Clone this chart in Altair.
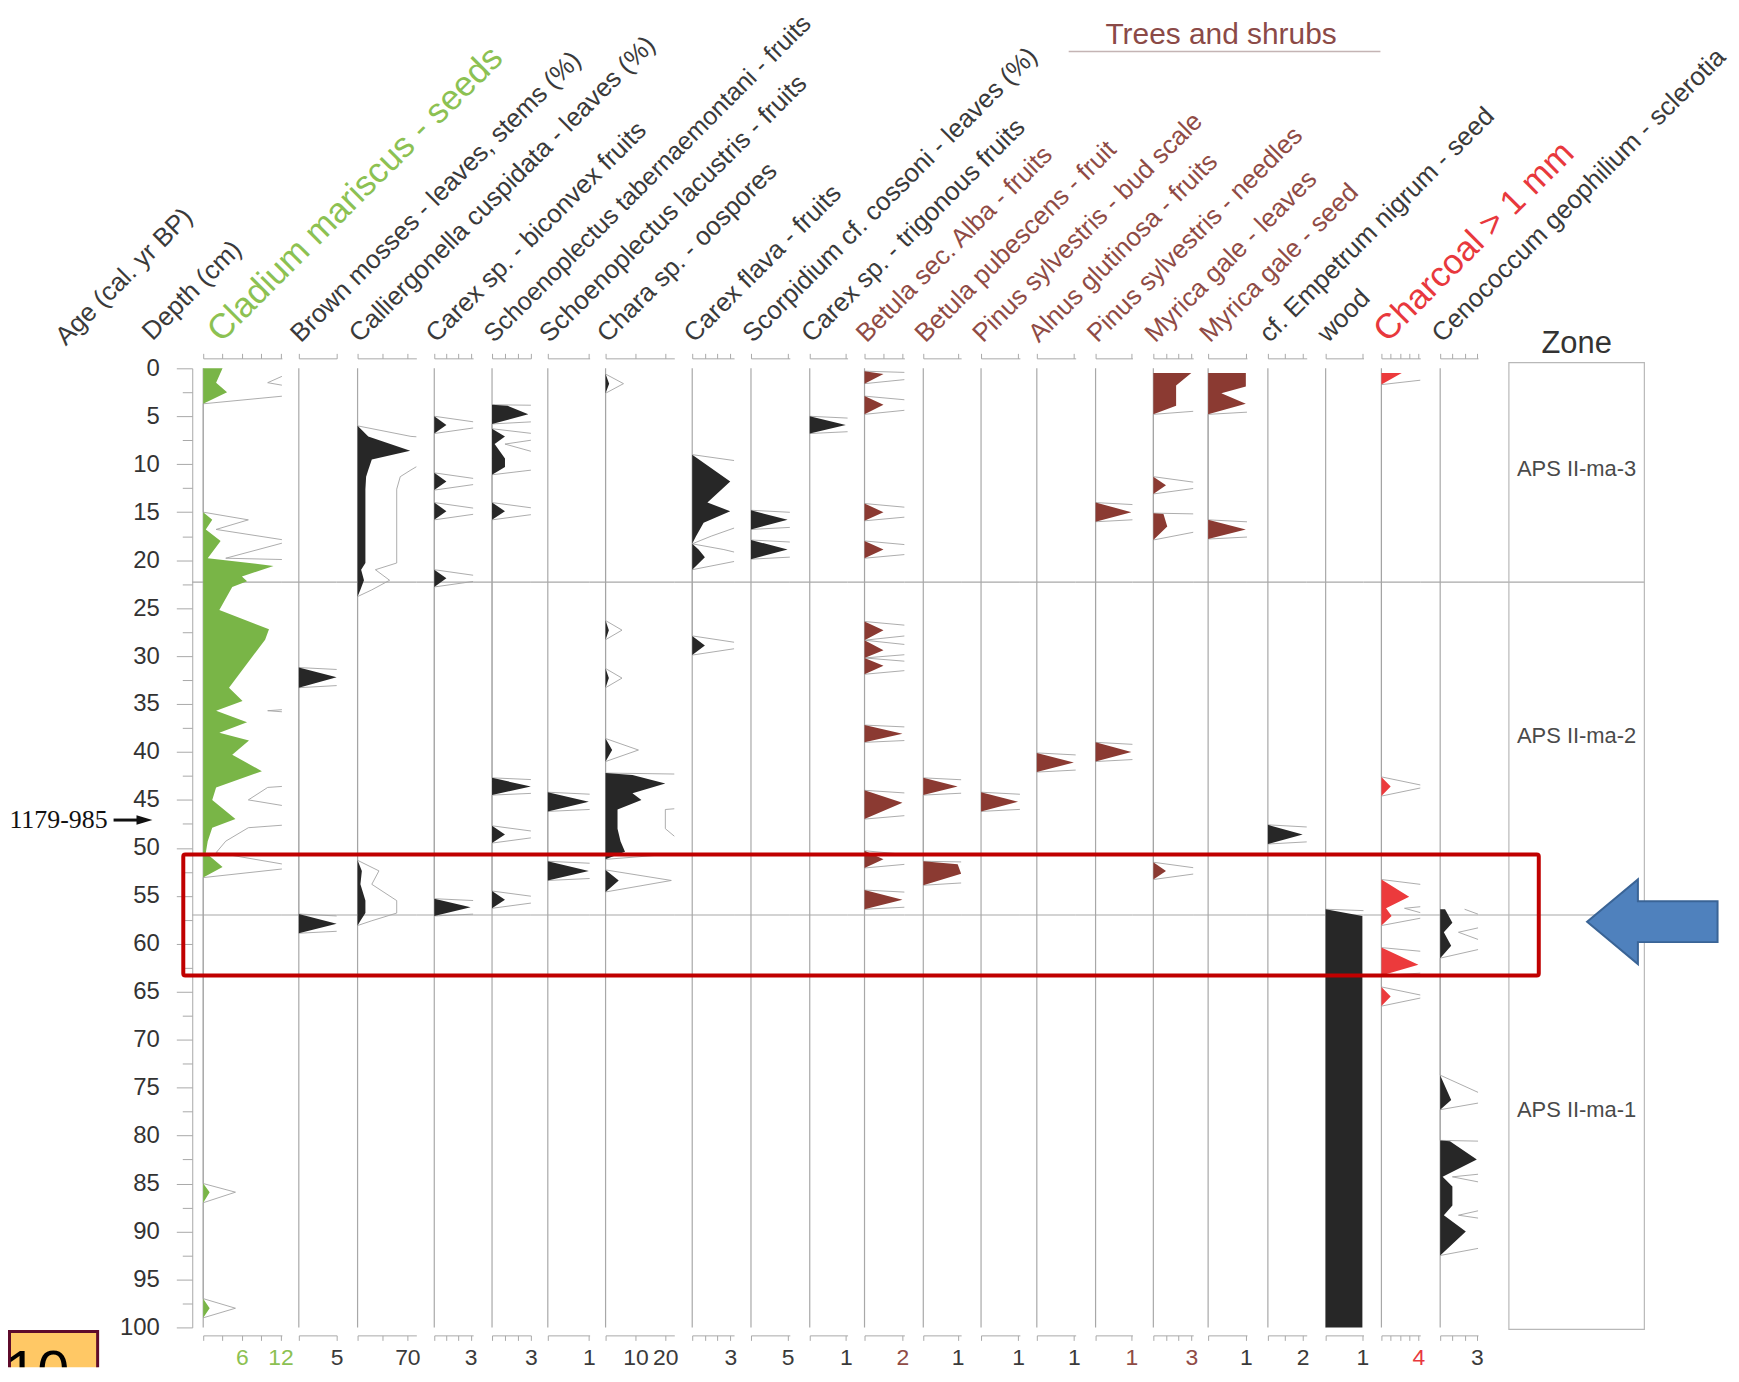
import json
import altair as alt
import pandas as pd

FONT = "Liberation Sans"
SERIF = "Liberation Serif"

# ---------------- depth axis / zones / annotations ----------------
depth_ticks = [i * 2.5 for i in range(41)]
zone_bounds = [22.3, 57.0]
zone_names = ["APS II-ma-3", "APS II-ma-2", "APS II-ma-1"]
zone_label_depths = [10.5, 38.3, 77.3]
dated_depth = 47.1
dated_label = "1179-985"
highlight_depths = [50.7, 63.3]
arrow_depth = 57.7

# ---------------- taxa: (depth cm, value) ----------------
cladium = [(0, 3), (1.5, 2), (2.5, 3.7), (3.7, 0), (15, 0), (15.8, 1.4), (16.8, 0.4), (18, 2.7),
           (19.8, 0.7), (20.6, 10.9), (21.7, 6), (22.2, 6.8), (22.8, 4.5), (25.2, 2.5), (27.2, 10.2),
           (28.3, 9.6), (33.3, 4), (34.7, 6.1), (35.7, 2), (36.9, 6.8), (38, 2.5), (38.8, 7.1),
           (40.3, 4.5), (42, 9.1), (43.7, 2), (45, 1.4), (47, 5), (47.9, 1.4), (49.3, 0.7),
           (50.5, 0.4), (52, 3), (53.1, 0), (85, 0), (85.9, 1.0), (87, 0), (97.0, 0), (98.0, 1.0), (99.0, 0)]
brown_mosses = [(31.2, 0), (32.2, 5), (33.3, 0), (56.9, 0), (57.9, 5), (58.9, 0)]
calliergonella = [(6.0, 0), (7.1, 15), (8.6, 74), (9.5, 20), (10.6, 15), (11.3, 12), (12.6, 11),
                  (20.3, 11), (21.0, 5), (22.1, 9), (23.1, 4), (23.8, 0), (51.3, 0), (52.4, 6),
                  (53.8, 4), (55.5, 11), (56.8, 11), (57.6, 4), (58.1, 0)]
carex_biconvex = [(5.0, 0), (5.9, 1), (6.8, 0), (10.9, 0), (11.8, 1), (12.7, 0), (14.0, 0), (14.9, 1),
                  (15.8, 0), (21.0, 0), (21.9, 1), (22.8, 0), (55.3, 0), (56.2, 3), (57.1, 0)]
schoeno_tab = [(3.8, 0), (3.9, 1.2), (4.8, 2.8), (5.8, 0), (6.3, 0), (7.1, 1), (7.9, 0.2), (9.4, 1),
               (10.3, 1), (11.1, 0), (14.0, 0), (14.9, 1), (15.8, 0), (42.7, 0), (43.6, 3), (44.5, 0),
               (47.7, 0), (48.6, 1), (49.5, 0), (54.5, 0), (55.4, 1), (56.3, 0)]
schoeno_lac = [(44.2, 0), (45.2, 1), (46.2, 0), (51.4, 0), (52.4, 1), (53.4, 0)]
chara = [(0.6, 0), (1.6, 1.2), (2.6, 0), (26.3, 0), (27.3, 1.1), (28.3, 0), (31.3, 0), (32.3, 1.1),
         (33.3, 0), (38.6, 0), (39.8, 2.2), (41.0, 0), (42.2, 0), (42.4, 9), (43.3, 20), (44.3, 9),
         (45.0, 12), (46.0, 4), (48.0, 4), (49.3, 5), (50.4, 6.5), (51.2, 0), (52.3, 0), (53.4, 4.4), (54.6, 0)]
carex_flava = [(9.0, 0), (11.8, 3), (14.0, 1.2), (14.9, 3), (16.1, 0.9), (17.5, 0.3), (18.3, 0),
               (18.9, 0.5), (19.7, 1), (21.0, 0), (27.9, 0), (28.9, 1), (29.9, 0)]
scorpidium = [(14.8, 0), (15.8, 5), (16.8, 0), (17.9, 0), (18.9, 5), (19.9, 0)]
carex_trigonous = [(5.0, 0), (5.9, 1), (6.8, 0)]
betula_alba = [(0.3, 0), (0.6, 1), (1.6, 0), (2.9, 0), (3.8, 1), (4.8, 0), (14.1, 0), (15.0, 1), (15.9, 0),
               (18.0, 0), (18.9, 1), (19.8, 0), (26.4, 0), (27.3, 1), (28.35, 0), (29.4, 1), (30.2, 0),
               (31.0, 1), (31.9, 0), (37.2, 0), (38.1, 2), (39.0, 0), (44.0, 0), (45.3, 2), (47.0, 0),
               (50.3, 0), (51.2, 1), (52.1, 0), (54.4, 0), (55.4, 2), (56.4, 0)]
betula_pub = [(42.7, 0), (43.6, 1), (44.5, 0), (51.4, 0), (51.7, 1), (52.7, 1.1), (53.9, 0)]
pinus_bud = [(44.2, 0), (45.2, 1), (46.2, 0)]
alnus = [(40.1, 0), (41.1, 1), (42.1, 0)]
pinus_needles = [(14.0, 0), (15.0, 1), (16.0, 0), (39.0, 0), (40.0, 1), (41.0, 0)]
myrica_leaves = [(0.5, 3), (1.8, 1.8), (3.9, 1.8), (4.8, 0), (11.3, 0), (12.2, 1), (13.1, 0), (15.1, 0),
                 (15.2, 0.8), (16.5, 1.1), (17.9, 0), (51.5, 0), (52.4, 1), (53.3, 0)]
myrica_seed = [(0.5, 1), (1.9, 1), (2.6, 0.35), (3.7, 1), (4.8, 0), (15.8, 0), (16.8, 1), (17.8, 0)]
empetrum = [(47.6, 0), (48.6, 2), (49.6, 0)]
wood = [(56.4, 0), (57.1, 1), (100, 1)]
charcoal = [(0.5, 2.2), (1.7, 0), (42.6, 0), (43.6, 1), (44.6, 0), (53.3, 0), (55.1, 3), (56.3, 0.5),
            (57.1, 1.1), (58.1, 0), (60.4, 0), (62.2, 4), (63.3, 0), (64.5, 0), (65.5, 1), (66.5, 0)]
cenococcum = [(56.4, 0.4), (57.8, 1), (58.8, 0.3), (60.2, 0.9), (61.5, 0), (73.7, 0), (76.3, 0.9),
              (77.3, 0), (80.5, 0), (80.6, 0.8), (82.5, 3), (84.3, 0.2), (85.3, 1), (87.3, 1),
              (88.3, 0.3), (90.0, 2.1), (92.5, 0)]

# ---------------- styles ----------------
GREEN_FILL, GREEN_TXT = "#79B547", "#8CC152"
BLACK = "#272727"
BROWN_FILL, BROWN_TXT = "#8B3A32", "#8F4B45"
RED_FILL, RED_TXT = "#EC3A3C", "#E8383D"
DARK = "#3A3A3A"
AX = "#A8A8A8"
EXAG = 5

# label, series, axis max, tick values, labelled ticks, fill, header colour, header size, tick colour
panels = [
    ("Cladium mariscus - seeds", cladium, 12.2, [0, 3, 6, 9, 12], [6, 12], GREEN_FILL, GREEN_TXT, 35, GREEN_TXT),
    ("Brown mosses - leaves, stems (%)", brown_mosses, 5.0, [0, 5], [5], BLACK, DARK, 26, DARK),
    ("Calliergonella cuspidata - leaves (%)", calliergonella, 82.6, [0, 35, 70], [70], BLACK, DARK, 26, DARK),
    ("Carex sp. - biconvex fruits", carex_biconvex, 3.2, [0, 1, 2, 3], [3], BLACK, DARK, 26, DARK),
    ("Schoenoplectus tabernaemontani - fruits", schoeno_tab, 3.0, [0, 1, 2, 3], [3], BLACK, DARK, 25.2, DARK),
    ("Schoenoplectus lacustris - fruits", schoeno_lac, 1.02, [0, 1], [1], BLACK, DARK, 26, DARK),
    ("Chara sp. - oospores", chara, 23, [0, 10, 20], [10, 20], BLACK, DARK, 26, DARK),
    ("Carex flava - fruits", carex_flava, 3.3, [0, 1, 2, 3], [3], BLACK, DARK, 26, DARK),
    ("Scorpidium cf. cossoni - leaves (%)", scorpidium, 5.3, [0, 5], [5], BLACK, DARK, 26, DARK),
    ("Carex sp. - trigonous fruits", carex_trigonous, 1.05, [0, 1], [1], BLACK, DARK, 26, DARK),
    ("Betula sec. Alba - fruits", betula_alba, 2.1, [0, 1, 2], [2], BROWN_FILL, BROWN_TXT, 26, BROWN_TXT),
    ("Betula pubescens - fruit", betula_pub, 1.1, [0, 1], [1], BROWN_FILL, BROWN_TXT, 26, DARK),
    ("Pinus sylvestris - bud scale", pinus_bud, 1.05, [0, 1], [1], BROWN_FILL, BROWN_TXT, 26, DARK),
    ("Alnus glutinosa - fruits", alnus, 1.05, [0, 1], [1], BROWN_FILL, BROWN_TXT, 26, DARK),
    ("Pinus sylvestris - needles", pinus_needles, 1.03, [0, 1], [1], BROWN_FILL, BROWN_TXT, 26, BROWN_TXT),
    ("Myrica gale - leaves", myrica_leaves, 3.15, [0, 1, 2, 3], [3], BROWN_FILL, BROWN_TXT, 26, BROWN_TXT),
    ("Myrica gale - seed", myrica_seed, 1.03, [0, 1], [1], BROWN_FILL, BROWN_TXT, 26, DARK),
    ("cf. Empetrum nigrum - seed", empetrum, 2.23, [0, 1, 2], [2], BLACK, DARK, 26, DARK),
    ("wood", wood, 1.03, [0, 1], [1], BLACK, DARK, 26, DARK),
    ("Charcoal > 1 mm", charcoal, 4.2, [0, 1, 2, 3, 4], [4], RED_FILL, RED_TXT, 35, RED_TXT),
    ("Cenococcum geophilium - sclerotia", cenococcum, 3.1, [0, 1, 2, 3], [3], BLACK, DARK, 26, DARK),
]

# ---------------- layout (pixels) ----------------
AXIS_X = 193          # page x of depth axis
baselines = [204, 300, 359, 436, 494, 550, 608, 695, 754, 813, 868, 927, 985, 1041, 1100, 1158,
             1213, 1273, 1331, 1387, 1446]
axis_len = [79, 38, 59, 39, 39, 42, 69, 42, 39, 38, 40, 38, 39, 39, 37, 40, 39, 39, 38, 39, 38]
head_dx = [18, 2, 2, 2, 2, 2, 2, 2, 2, 2, 2, 2, 2, 2, 2, 2, 2, 2, 2, 6, 2]
ZONE_LEFT, ZONE_W = 1515, 136
H = 963
LEFT_W = AXIS_X - 8
HEAD_Y = -25
BADGE_TOP, BADGE_H = H + 4, 36

ys = alt.Scale(domain=[0, 100], reverse=True, nice=False, zero=False)
zone_df = pd.DataFrame({"d": zone_bounds})
one = pd.DataFrame({"z": [0]})


def make_panel(i):
    label, series, dmax, ticks, shown, fill, hcol, hsize, tcol = panels[i]
    prev_end = AXIS_X if i == 0 else baselines[i - 1] + axis_len[i - 1]
    gap = baselines[i] - prev_end
    W = gap + axis_len[i]
    xs = alt.Scale(domain=[0, dmax], range=[gap, W], nice=False, zero=False)
    df = pd.DataFrame(series, columns=["depth", "value"])
    lab_expr = "indexof(%s, datum.value) >= 0 ? datum.label : ''" % json.dumps(shown)
    bottom_axis = alt.Axis(orient="bottom", values=ticks, labelExpr=lab_expr, format="d", title=None,
                           offset=8, tickSize=5, labelPadding=6, labelFontSize=23, labelColor=tcol,
                           labelFont=FONT, domainColor=AX, tickColor=AX, labelFlush=False,
                           labelOverlap=False, grid=False)
    top_axis = alt.Axis(orient="top", values=ticks, labels=False, title=None, offset=10, tickSize=5,
                        domainColor=AX, tickColor=AX, grid=False)
    if i == 0:
        y_axis = alt.Axis(orient="left", values=depth_ticks,
                          labelExpr="datum.value % 5 == 0 ? datum.label : ''",
                          tickSize={"condition": {"test": "datum.value % 5 == 0", "value": 16}, "value": 10},
                          labelFontSize=24, labelColor="#333333", labelFont=FONT, labelPadding=17,
                          domainColor=AX, tickColor=AX, grid=False, title=None, labelFlush=False)
    else:
        y_axis = None

    zl = alt.Chart(zone_df).mark_rule(color=AX, strokeWidth=1.2).encode(
        y=alt.Y("d:Q", scale=ys, axis=None))
    bl = alt.Chart(one).mark_rule(color=AX, strokeWidth=1.2).encode(
        x=alt.X("z:Q", scale=xs, axis=None))
    ex = alt.Chart(df).transform_calculate(ex="datum.value * %d" % EXAG).mark_line(
        clip=True, color="#A3A3A3", strokeWidth=0.9).encode(
        x=alt.X("ex:Q", scale=xs, axis=top_axis),
        y=alt.Y("depth:Q", scale=ys, axis=None),
        order="depth:Q")
    ar = alt.Chart(df).mark_area(orient="horizontal", color=fill, opacity=1).encode(
        x=alt.X("value:Q", scale=xs, stack=None, axis=bottom_axis),
        y=alt.Y("depth:Q", scale=ys, axis=y_axis))
    hd = alt.Chart(pd.DataFrame({"t": [label]})).mark_text(
        angle=315, align="left", baseline="alphabetic", fontSize=hsize, color=hcol, font=FONT).encode(
        text="t:N", x=alt.value(gap + head_dx[i]), y=alt.value(HEAD_Y))
    return alt.layer(zl, bl, ex, ar, hd).resolve_axis(x="independent", y="independent").properties(
        width=W, height=H)


# left strip: header labels for age / depth, dated level, figure badge
ysl = alt.Scale(domain=[0, 100], range=[0, H], nice=False, zero=False)
left_heads = pd.DataFrame({"t": ["Age (cal. yr BP)", "Depth (cm)"], "px": [58, 145], "py": [-22, -27]})
lh = alt.Chart(left_heads).mark_text(angle=315, align="left", baseline="alphabetic", fontSize=26,
                                     color=DARK, font=FONT).encode(
    text="t:N", x=alt.X("px:Q", scale=None, axis=None), y=alt.Y("py:Q", scale=None, axis=None))
dated = alt.Chart(pd.DataFrame({"t": [dated_label]})).mark_text(
    align="right", baseline="middle", fontSize=26, font=SERIF, color="#111111").encode(
    text="t:N", x=alt.value(100), y=alt.YDatum(dated_depth, scale=ysl, axis=None))
shaft = alt.Chart(one).mark_rule(color="#111111", strokeWidth=3).encode(
    x=alt.value(106), x2=alt.value(133), y=alt.YDatum(dated_depth, scale=ysl, axis=None))
head = alt.Chart(one).mark_point(shape="M 1 0 L -1 -0.6 L -1 0.6 Z", size=256, filled=True,
                                 color="#111111", opacity=1).encode(
    x=alt.value(137), y=alt.YDatum(dated_depth, scale=ysl, axis=None))
badge_box = alt.Chart(one).mark_rect(clip=True, fill="#FFC865", stroke="#5E0B2B", strokeWidth=3).encode(
    x=alt.value(1.5), x2=alt.value(90), y=alt.value(BADGE_TOP), y2=alt.value(BADGE_TOP + BADGE_H + 6))
badge_txt = alt.Chart(pd.DataFrame({"t": ["10"]})).mark_text(
    clip=True, align="left", baseline="alphabetic", fontSize=58, color="#000000", font=FONT).encode(
    text="t:N", x=alt.value(-3), y=alt.value(BADGE_TOP + 60))
left = alt.layer(lh, dated, shaft, head, badge_box, badge_txt).resolve_axis(
    x="independent", y="independent").properties(width=LEFT_W, height=BADGE_TOP + BADGE_H)

# zone column + annotations
zgap = ZONE_LEFT - (baselines[-1] + axis_len[-1])
ZW = zgap + ZONE_W
xz = alt.Scale(domain=[0, 1], range=[zgap, ZW], nice=False, zero=False)
zrules = alt.Chart(zone_df).mark_rule(color=AX, strokeWidth=1.2).encode(y=alt.Y("d:Q", scale=ys, axis=None))
zbox = alt.Chart(one).mark_rect(fill="transparent", stroke="#B8B8B8", strokeWidth=1.2).encode(
    x=alt.XDatum(0, scale=xz, axis=None), x2=alt.X2Datum(1),
    y=alt.YDatum(-0.6, scale=ys, axis=None), y2=alt.Y2Datum(100.2))
ztext = alt.Chart(pd.DataFrame({"z": zone_names, "d": zone_label_depths})).mark_text(
    fontSize=22, color="#4A4A4A", font=FONT).encode(
    text="z:N", x=alt.XDatum(0.5, scale=xz, axis=None), y=alt.Y("d:Q", scale=ys, axis=None))
ztitle = alt.Chart(pd.DataFrame({"t": ["Zone"]})).mark_text(
    fontSize=31, color="#333333", font=FONT, baseline="alphabetic").encode(
    text="t:N", x=alt.XDatum(0.5, scale=xz, axis=None), y=alt.value(-15))
trees = alt.Chart(pd.DataFrame({"t": ["Trees and shrubs"]})).mark_text(
    fontSize=30, color="#8B4A47", font=FONT, baseline="alphabetic", align="center").encode(
    text="t:N", x=alt.value(-258), y=alt.value(-326))
trees_line = alt.Chart(one).mark_rule(color="#C4B4B4", strokeWidth=1.5).encode(
    x=alt.value(-411), x2=alt.value(-98), y=alt.value(-318))
hl = alt.Chart(one).mark_rect(fill="transparent", stroke="#C00000", strokeWidth=4, cornerRadius=2).encode(
    x=alt.value(-1300), x2=alt.value(61),
    y=alt.YDatum(highlight_depths[0], scale=ys, axis=None), y2=alt.Y2Datum(highlight_depths[1]))
barrow = alt.Chart(one).mark_point(
    shape="M -1 0 L -0.221 -0.649 L -0.221 -0.313 L 1 -0.313 L 1 0.313 L -0.221 0.313 L -0.221 0.649 Z",
    size=17161, filled=True, fill="#4F81BD", stroke="#3A6496", strokeWidth=2, opacity=1).encode(
    x=alt.value(175), y=alt.YDatum(arrow_depth, scale=ys, axis=None))
zone = alt.layer(zrules, zbox, ztext, ztitle, trees, trees_line, hl, barrow).resolve_axis(
    x="independent", y="independent").properties(width=ZW, height=H)

chart = alt.hconcat(left, *[make_panel(i) for i in range(len(panels))], zone,
                    spacing=0, bounds="flush").properties(padding=0).configure(
    font=FONT).configure_view(stroke="transparent", strokeWidth=0)

chart.save("out.html", embed_options={"renderer": "svg", "actions": False})
